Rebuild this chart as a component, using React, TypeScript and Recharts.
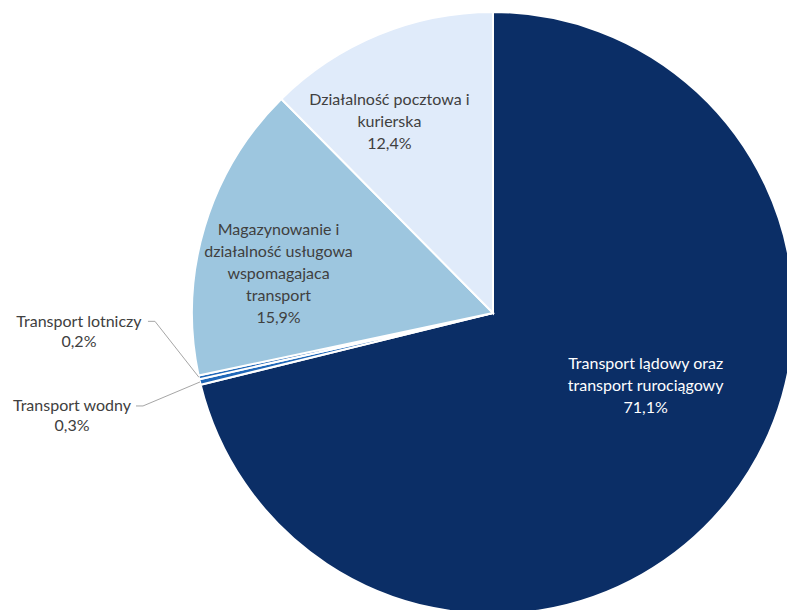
import React from 'react';
import { PieChart, Pie, Cell } from 'recharts';

const names = [
  'Transport lądowy oraz\ntransport rurociągowy',
  'Transport wodny',
  'Transport lotniczy',
  'Magazynowanie i\ndziałalność usługowa\nwspomagajaca\ntransport',
  'Działalność pocztowa i\nkurierska',
];
const shares = [71.1, 0.3, 0.2, 15.9, 12.4];
const COLORS = ['#0b2e66', '#1f67b8', '#1f67b8', '#9dc6df', '#e0ebfa'];

const data = names.map((name, i) => ({ name, value: shares[i] }));

const RADIAN = Math.PI / 180;
const FONT = 'Lato, "Open Sans", sans-serif';
const FS = 16;
const LINE_H = 22;

const fmt = (v: number) => `${v.toFixed(1).replace('.', ',')}%`;

const renderLabel = (props: any) => {
  const { cx, cy, midAngle, outerRadius, index, value, name } = props;
  const lines: string[] = [...String(name).split('\n'), fmt(value)];

  if (value < 1) {
    // tiny slices: label outside with a leader line
    const ex = cx + outerRadius * Math.cos(-midAngle * RADIAN);
    const ey = cy + outerRadius * Math.sin(-midAngle * RADIAN);
    const up = index === 2;
    const ty = up ? ey - 57 : ey + 23;
    const tx = up ? ex - 120 : ex - 128;
    const half = up ? 66 : 61;
    return (
      <g>
        <polyline
          points={`${ex},${ey} ${tx + half + 10},${ty + 1} ${tx + half + 3},${ty + 1}`}
          fill="none"
          stroke="#a6a6a6"
          strokeWidth={1}
        />
        {lines.map((l, i) => (
          <text key={i} x={tx} y={ty + i * 20} textAnchor="middle" dominantBaseline="central"
            fill="#404040" fontSize={FS} fontFamily={FONT}>
            {l}
          </text>
        ))}
      </g>
    );
  }

  // inside labels, nudged a bit like Excel's best fit
  const big = value > 50;
  const ang = (midAngle + (big ? 13 : 6)) * RADIAN;
  const rf = big ? 0.56 : 0.725;
  const x = cx + outerRadius * rf * Math.cos(-ang);
  const y = cy + outerRadius * rf * Math.sin(-ang);
  const y0 = y - ((lines.length - 1) * LINE_H) / 2;
  return (
    <g>
      {lines.map((l, i) => (
        <text key={i} x={x} y={y0 + i * LINE_H} textAnchor="middle" dominantBaseline="central"
          fill={index === 0 ? '#ffffff' : '#404040'} fontSize={FS} fontFamily={FONT}>
          {l}
        </text>
      ))}
    </g>
  );
};

export default function App() {
  return (
    <div style={{ position: 'absolute', left: 0, top: 0, width: 787, height: 610, background: '#fff', overflow: 'hidden' }}>
      <PieChart width={787} height={610} margin={{ top: 0, right: 0, bottom: 0, left: 0 }}>
        <Pie
          data={data}
          dataKey="value"
          nameKey="name"
          cx={493}
          cy={313}
          outerRadius={301}
          startAngle={90}
          endAngle={-270}
          stroke="#ffffff"
          strokeWidth={2}
          label={renderLabel}
          labelLine={false}
          isAnimationActive={false}
        >
          {data.map((d, i) => (
            <Cell key={i} fill={COLORS[i]} />
          ))}
        </Pie>
      </PieChart>
    </div>
  );
}
